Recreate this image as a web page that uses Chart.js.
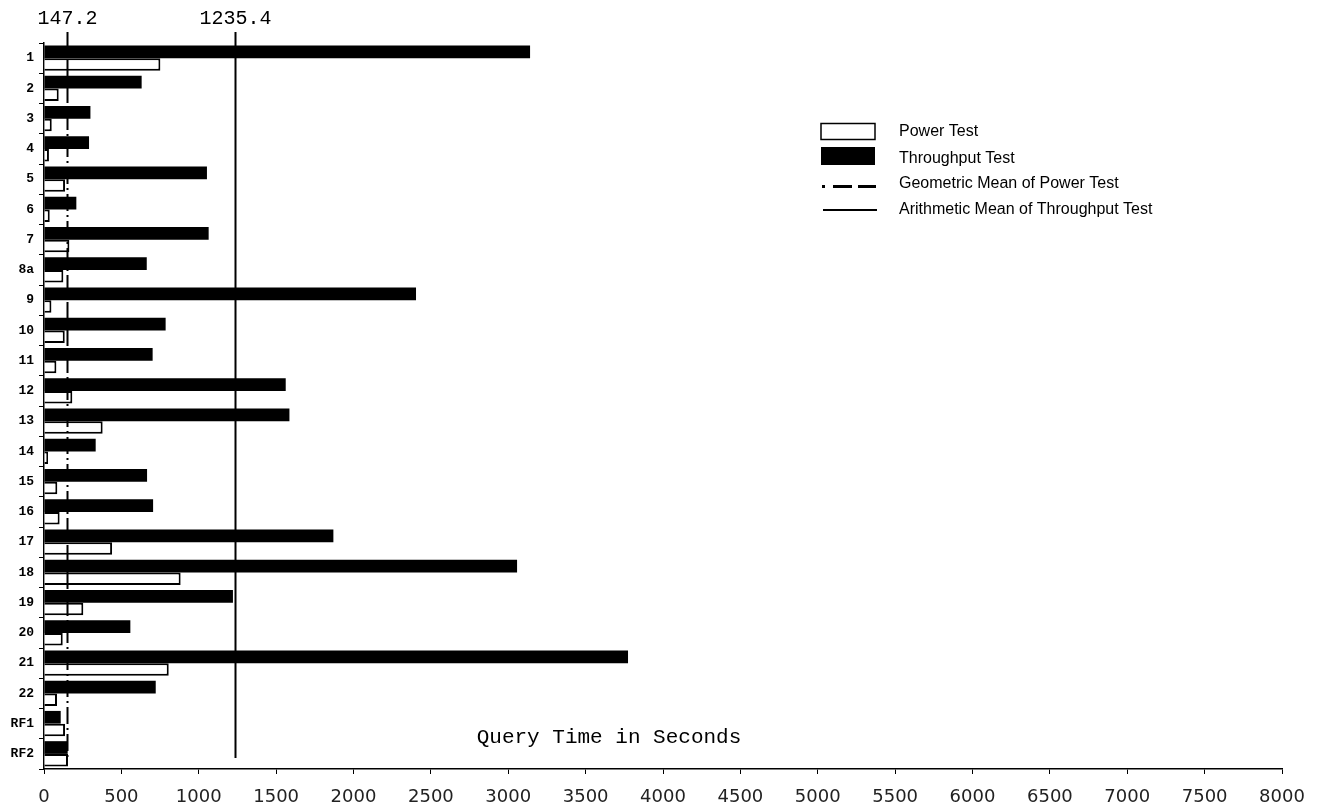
<!DOCTYPE html>
<html>
<head>
<meta charset="utf-8">
<title>Query Times</title>
<script src="https://cdn.jsdelivr.net/npm/chart.js@4.4.1/dist/chart.umd.min.js"></script>
<style>
  html, body { margin: 0; padding: 0; background: #fff; }
  canvas { display: block; }
</style>
</head>
<body>
<canvas id="chart" width="1322" height="808"></canvas>
<script>
// Query identifiers, top to bottom
const queries = ['1', '2', '3', '4', '5', '6', '7', '8a', '9', '10', '11', '12',
  '13', '14', '15', '16', '17', '18', '19', '20', '21', '22', 'RF1', 'RF2'];

// Query times in seconds
const powerTest = [752, 95, 50, 32, 136, 37, 164, 125, 48, 134, 80, 183,
  379, 26, 86, 101, 440, 883, 254, 121, 806, 84, 136, 155];
const throughputTest = [3141, 631, 300, 291, 1053, 209, 1064, 664, 2404, 786, 702, 1562,
  1586, 334, 666, 705, 1870, 3057, 1221, 558, 3774, 722, 108, 153];

// Summary values shown as vertical reference lines
const geoMeanPower = 147.2;
const arithMeanThroughput = 1235.4;

// Time axis
const xMin = 0;
const xMax = 8000;
const xStep = 500;

const legendLabels = ['Power Test', 'Throughput Test',
  'Geometric Mean of Power Test', 'Arithmetic Mean of Throughput Test'];
const axisTitle = 'Query Time in Seconds';

const DASH = [17, 4, 2, 4];

// Vertical mean lines with their value printed above
const meanLines = {
  id: 'meanLines',
  afterDatasetsDraw(chart) {
    const { ctx, chartArea } = chart;
    const x = chart.scales.x;
    const lines = [
      { value: geoMeanPower, dash: DASH },
      { value: arithMeanThroughput, dash: [] }
    ];
    ctx.save();
    lines.forEach(l => {
      const px = Math.round(x.getPixelForValue(l.value)) + 0.5;
      ctx.beginPath();
      ctx.setLineDash(l.dash);
      ctx.strokeStyle = '#000';
      ctx.lineWidth = 2;
      ctx.moveTo(px, chartArea.top - 11);
      ctx.lineTo(px, chartArea.bottom - 11);
      ctx.stroke();
      ctx.setLineDash([]);
      ctx.fillStyle = '#000';
      ctx.font = '20px "Liberation Mono", monospace';
      ctx.textAlign = 'center';
      ctx.textBaseline = 'middle';
      ctx.fillText(String(l.value), px, 19);
    });
    ctx.restore();
  }
};

// Legend block and in-plot axis caption
const annotations = {
  id: 'annotations',
  afterDraw(chart) {
    const { ctx } = chart;
    ctx.save();
    const sx = 821, sw = 54;
    // Power Test swatch
    ctx.fillStyle = '#fff';
    ctx.strokeStyle = '#000';
    ctx.lineWidth = 1.5;
    ctx.fillRect(sx, 123.5, sw, 16);
    ctx.strokeRect(sx, 123.5, sw, 16);
    // Throughput Test swatch
    ctx.fillStyle = '#000';
    ctx.fillRect(sx, 147, sw, 18);
    // Geometric mean line sample: dot, dash, dash
    ctx.fillRect(sx + 1, 185, 3, 3);
    ctx.fillRect(sx + 12, 185, 19, 3);
    ctx.fillRect(sx + 37, 185, 18, 3);
    // Arithmetic mean line sample
    ctx.fillRect(sx + 2, 209, sw, 2);

    ctx.fillStyle = '#000';
    ctx.font = '16px "Liberation Sans", Arial, sans-serif';
    ctx.textAlign = 'left';
    ctx.textBaseline = 'middle';
    const ys = [132, 159, 184, 210];
    legendLabels.forEach((t, i) => ctx.fillText(t, 899, ys[i]));

    ctx.font = '21px "Liberation Mono", monospace';
    ctx.textAlign = 'center';
    ctx.fillText(axisTitle, 609, 737);
    ctx.restore();
  }
};

new Chart(document.getElementById('chart'), {
  type: 'bar',
  data: {
    labels: queries,
    datasets: [
      {
        label: legendLabels[1],
        data: throughputTest,
        backgroundColor: '#000',
        borderWidth: 0,
        categoryPercentage: 0.84,
        barPercentage: 1
      },
      {
        label: legendLabels[0],
        data: powerTest,
        backgroundColor: '#fff',
        borderColor: '#000',
        borderWidth: 2,
        borderSkipped: 'start',
        categoryPercentage: 0.84,
        barPercentage: 1
      }
    ]
  },
  options: {
    indexAxis: 'y',
    responsive: false,
    animation: false,
    events: [],
    layout: { padding: { top: 43, right: 40, left: 0, bottom: 0 } },
    plugins: {
      legend: { display: false },
      tooltip: { enabled: false }
    },
    scales: {
      y: {
        type: 'category',
        offset: true,
        z: 1,
        grid: {
          offset: true,
          drawOnChartArea: false,
          drawTicks: true,
          tickLength: 5,
          color: '#000',
          lineWidth: 1
        },
        border: { display: true, color: '#000', width: 1.5 },
        ticks: {
          color: '#000',
          padding: 5,
          font: { family: '"Liberation Mono", monospace', size: 13, weight: 'bold' }
        },
        afterFit(scale) { scale.width = 44; }
      },
      x: {
        type: 'linear',
        min: xMin,
        max: xMax,
        z: 1,
        grid: {
          drawOnChartArea: false,
          drawTicks: true,
          tickLength: 5,
          color: '#000',
          lineWidth: 1
        },
        border: { display: true, color: '#000', width: 1.5 },
        ticks: {
          stepSize: xStep,
          color: '#222',
          padding: 13,
          maxRotation: 0,
          autoSkip: false,
          font: { family: '"DejaVu Sans", sans-serif', size: 18 },
          callback: v => String(v)
        },
        afterFit(scale) { scale.height = 39; }
      }
    }
  },
  plugins: [meanLines, annotations]
});
</script>
</body>
</html>
